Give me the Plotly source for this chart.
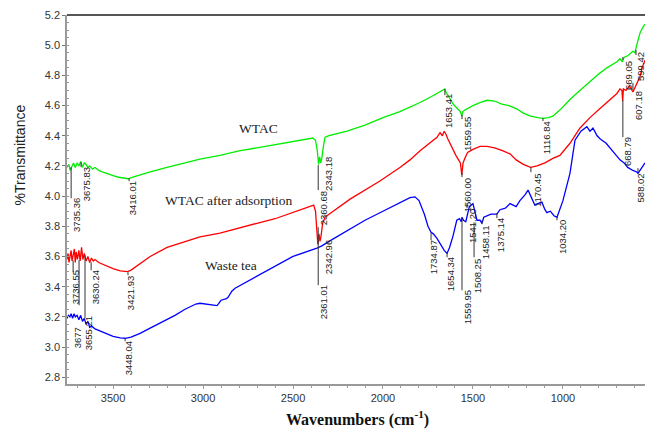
import plotly.graph_objects as go

# ---------------- data ----------------
wtac_wn = [3756, 3745, 3739, 3730, 3720, 3710, 3700, 3690, 3680, 3670, 3660, 3650, 3640, 3630,
           3615, 3600, 3580, 3560, 3540, 3520, 3500, 3470, 3440, 3416, 3390, 3350, 3294, 3200,
           3100, 3017, 2906, 2800, 2700, 2600, 2500, 2406, 2390, 2375, 2365, 2358, 2352, 2346,
           2340, 2330, 2322, 2300, 2200, 2100, 2000, 1906, 1850, 1794, 1730, 1690, 1670, 1656,
           1650, 1640, 1625, 1610, 1595, 1580, 1570, 1562, 1556, 1545, 1530, 1500, 1461, 1422,
           1380, 1340, 1300, 1260, 1220, 1180, 1140, 1111, 1080, 1056, 1017, 961, 906, 850, 800,
           756, 700, 683, 670, 660, 640, 611, 600, 590, 572, 560, 544]
wtac_t = [4.19, 4.21, 4.17, 4.20, 4.22, 4.19, 4.22, 4.20, 4.23, 4.19, 4.22, 4.21, 4.19, 4.20,
          4.18, 4.19, 4.17, 4.16, 4.15, 4.14, 4.135, 4.125, 4.12, 4.115, 4.125, 4.14, 4.16, 4.19,
          4.22, 4.245, 4.27, 4.30, 4.32, 4.34, 4.36, 4.38, 4.385, 4.37, 4.30, 4.21, 4.26, 4.22,
          4.25, 4.34, 4.39, 4.40, 4.43, 4.47, 4.52, 4.56, 4.59, 4.62, 4.66, 4.69, 4.70, 4.71,
          4.69, 4.67, 4.64, 4.61, 4.59, 4.57, 4.56, 4.53, 4.56, 4.57, 4.58, 4.60, 4.62, 4.635,
          4.63, 4.61, 4.60, 4.58, 4.55, 4.53, 4.52, 4.515, 4.52, 4.53, 4.57, 4.64, 4.70, 4.76, 4.81,
          4.85, 4.89, 4.91, 4.89, 4.92, 4.93, 4.96, 4.95, 5.00, 5.08, 5.11, 5.14]

ads_wn = [3756, 3750, 3745, 3739, 3733, 3728, 3722, 3715, 3710, 3705, 3698, 3690, 3683, 3675,
          3668, 3660, 3650, 3640, 3630, 3620, 3610, 3600, 3580, 3560, 3530, 3500, 3460, 3420,
          3400, 3350, 3294, 3200, 3100, 3017, 2906, 2800, 2700, 2600, 2500, 2406, 2385, 2375,
          2368, 2362, 2356, 2350, 2345, 2335, 2322, 2300, 2183, 2100, 2017, 1906, 1850, 1794,
          1740, 1700, 1683, 1670, 1660, 1650, 1640, 1625, 1610, 1595, 1580, 1570, 1562, 1555,
          1545, 1530, 1500, 1461, 1422, 1380, 1333, 1294, 1260, 1220, 1180, 1144, 1100, 1056,
          1017, 961, 906, 850, 794, 756, 700, 683, 672, 668, 664, 650, 630, 611, 600, 583, 572,
          560, 544]
ads_t = [3.58, 3.62, 3.56, 3.60, 3.64, 3.57, 3.62, 3.65, 3.56, 3.63, 3.58, 3.64, 3.57, 3.66,
         3.58, 3.62, 3.57, 3.60, 3.56, 3.59, 3.57, 3.58, 3.56, 3.55, 3.53, 3.52, 3.505, 3.50,
         3.51, 3.55, 3.60, 3.66, 3.70, 3.73, 3.755, 3.79, 3.82, 3.85, 3.89, 3.93, 3.94, 3.90,
         3.75, 3.68, 3.75, 3.70, 3.73, 3.82, 3.86, 3.88, 3.98, 4.04, 4.10, 4.19, 4.24, 4.30,
         4.35, 4.39, 4.42, 4.40, 4.43, 4.41, 4.38, 4.34, 4.30, 4.27, 4.24, 4.22, 4.14, 4.22,
         4.25, 4.29, 4.31, 4.33, 4.33, 4.32, 4.30, 4.28, 4.24, 4.21, 4.19, 4.20, 4.22, 4.25,
         4.27, 4.35, 4.45, 4.52, 4.58, 4.62, 4.68, 4.71, 4.70, 4.63, 4.71, 4.70, 4.73, 4.69,
         4.72, 4.77, 4.79, 4.85, 4.90]

tea_wn = [3756, 3748, 3740, 3733, 3725, 3717, 3710, 3700, 3690, 3680, 3670, 3660, 3650, 3640,
          3630, 3620, 3600, 3580, 3550, 3520, 3500, 3460, 3433, 3400, 3350, 3294, 3200, 3156,
          3100, 3040, 3017, 2990, 2961, 2922, 2900, 2870, 2861, 2840, 2822, 2700, 2600, 2500,
          2367, 2340, 2300, 2183, 2100, 2017, 1906, 1850, 1822, 1800, 1770, 1750, 1733, 1720,
          1700, 1680, 1660, 1644, 1630, 1610, 1590, 1575, 1565, 1561, 1553, 1540, 1533, 1520,
          1500, 1490, 1478, 1461, 1450, 1440, 1422, 1400, 1367, 1350, 1320, 1294, 1260, 1239,
          1210, 1194, 1175, 1156, 1140, 1117, 1100, 1089, 1070, 1050, 1033, 1000, 961, 933, 900,
          867, 850, 833, 810, 794, 760, 720, 683, 660, 640, 611, 590, 583, 570, 555, 544]
tea_t = [3.19, 3.21, 3.20, 3.22, 3.19, 3.22, 3.20, 3.21, 3.18, 3.21, 3.17, 3.19, 3.15, 3.17,
         3.13, 3.14, 3.12, 3.11, 3.09, 3.08, 3.07, 3.06, 3.058, 3.065, 3.09, 3.125, 3.18, 3.21,
         3.25, 3.285, 3.29, 3.285, 3.28, 3.275, 3.31, 3.32, 3.33, 3.37, 3.39, 3.47, 3.54, 3.60,
         3.655, 3.67, 3.70, 3.78, 3.84, 3.89, 3.96, 3.99, 3.995, 3.97, 3.88, 3.80, 3.76, 3.75,
         3.72, 3.68, 3.64, 3.62, 3.66, 3.74, 3.84, 3.85, 3.83, 3.86, 3.84, 3.83, 3.86, 3.93,
         3.95, 3.90, 3.84, 3.84, 3.82, 3.86, 3.87, 3.88, 3.88, 3.91, 3.92, 3.95, 3.93, 3.97,
         4.01, 4.04, 3.99, 3.94, 3.95, 3.96, 3.91, 3.89, 3.90, 3.87, 3.86, 3.97, 4.15, 4.37, 4.43,
         4.46, 4.43, 4.45, 4.40, 4.38, 4.35, 4.29, 4.24, 4.22, 4.19, 4.17, 4.16, 4.15, 4.17, 4.20,
         4.22]

# peak labels: text, label centre (wavenumber, %T), leader line (wavenumber, top %T, bottom %T)
peak_text = ["3735.36", "3675.83", "3416.01", "2343.18", "1653.41", "1559.55", "1116.84",
             "669.05", "599.42", "607.18",
             "3736.55", "3630.24", "3421.93", "2360.68", "1560.00", "1170.45", "668.79",
             "3677", "3655.21", "3448.04", "2361.01", "2342.96", "1734.87", "1654.34",
             "1559.95", "1541.20", "1508.25", "1458.11", "1375.14", "1034.20", "588.02"]
peak_lab_wn = [3706, 3650, 3394, 2306, 1639, 1533, 1094,
               639, 572, 583,
               3711, 3600, 3406, 2333, 1533, 1144, 644,
               3700, 3639, 3417, 2333, 2306, 1722, 1628,
               1533, 1506, 1478, 1433, 1350, 1006, 570]
peak_lab_t = [3.874, 4.079, 3.986, 4.146, 4.563, 4.411, 4.384,
              4.802, 4.862, 4.603,
              3.396, 3.396, 3.357, 3.920, 4.006, 4.040, 4.292,
              3.058, 3.091, 2.925, 3.297, 3.595, 3.595, 3.482,
              3.264, 3.801, 3.469, 3.695, 3.741, 3.728, 4.053]
line_wn = [3733, 3678, 3411, 2360, 1656, 1561, 1111,
           667, 594, 611,
           3722, 3622, 3417, 2360, 1561, 1178, 667,
           3689, 3656, 3433, 2360, 2360, 1733, 1644,
           1561, 1533, 1494, 1450, 1367, 1033, 583]
line_top = [4.192, 4.225, 4.119, 4.205, 4.709, 4.537, 4.517,
            4.921, 4.968, 4.749,
            3.575, 3.562, 3.496, 3.794, 4.152, 4.192, 4.636,
            3.575, 3.608, 3.058, 3.642, 3.675, 3.754, 3.622,
            3.860, 3.953, 3.826, 3.840, 3.887, 3.860, 4.185]
line_bot = [3.986, 4.192, 4.099, 4.040, 4.669, 4.510, 4.497,
            4.902, 4.935, 4.703,
            3.496, 3.509, 3.476, 3.675, 4.126, 4.159, 4.391,
            3.277, 3.191, 3.038, 3.410, 3.642, 3.708, 3.595,
            3.376, 3.920, 3.595, 3.814, 3.854, 3.840, 4.159]

series_names = ["WTAC", "WTAC after adsorption", "Waste tea"]
series_lab_wn = [2694, 2861, 2844]
series_lab_t = [4.451, 3.973, 3.542]

y_ticks = [2.8, 3.0, 3.2, 3.4, 3.6, 3.8, 4.0, 4.2, 4.4, 4.6, 4.8, 5.0, 5.2]
x_ticks = [3500, 3000, 2500, 2000, 1500, 1000]

# ---------------- figure ----------------
fig = go.Figure()
for wn, t, col in [(wtac_wn, wtac_t, "#00ee00"), (ads_wn, ads_t, "#ff0000"), (tea_wn, tea_t, "#0000ff")]:
    fig.add_trace(go.Scatter(x=wn, y=t, mode="lines", line=dict(color=col, width=1.3),
                             showlegend=False, hoverinfo="skip"))

shapes = []
for lx, ly0, ly1 in zip(line_wn, line_top, line_bot):
    shapes.append(dict(type="line", xref="x", yref="y", x0=lx, x1=lx, y0=ly0, y1=ly1,
                       line=dict(color="#333333", width=1)))
# top frame line
shapes.append(dict(type="line", xref="paper", yref="paper", x0=0, x1=1, y0=1, y1=1,
                   line=dict(color="#555555", width=2)))

annotations = []
for txt, ax_, ay_ in zip(peak_text, peak_lab_wn, peak_lab_t):
    annotations.append(dict(x=ax_, y=ay_, xref="x", yref="y", text=txt, showarrow=False,
                            textangle=-90, xanchor="center", yanchor="middle",
                            font=dict(family="Liberation Sans, Arial", size=9.5, color="#222222")))
for txt, ax_, ay_ in zip(series_names, series_lab_wn, series_lab_t):
    annotations.append(dict(x=ax_, y=ay_, xref="x", yref="y", text=txt, showarrow=False,
                            xanchor="center", yanchor="middle",
                            font=dict(family="Liberation Serif, Times New Roman", size=13.5,
                                      color="#222222")))
annotations.append(dict(x=0.503, y=-0.094, xref="paper", yref="paper",
                        text="<b>Wavenumbers (cm<sup>-1</sup>)</b>", showarrow=False,
                        xanchor="center", yanchor="middle",
                        font=dict(family="Liberation Serif, Times New Roman", size=16,
                                  color="#111111")))
annotations.append(dict(x=-0.081, y=0.62, xref="paper", yref="paper", text="%Transmittance",
                        showarrow=False, textangle=-90, xanchor="center", yanchor="middle",
                        font=dict(family="Liberation Sans, Arial", size=14, color="#222222")))

fig.update_layout(
    width=645, height=429,
    margin=dict(l=67, r=0, t=15, b=45),
    paper_bgcolor="white", plot_bgcolor="white",
    shapes=shapes, annotations=annotations,
    xaxis=dict(range=[3756, 544], tickvals=x_ticks, ticktext=[str(v) for v in x_ticks],
               showgrid=False, zeroline=False, showline=True, linecolor="#999999", linewidth=1.5,
               ticks="outside", ticklen=3, tickcolor="#999999",
               minor=dict(dtick=100, ticks="outside", ticklen=2, tickcolor="#999999"),
               tickfont=dict(family="Liberation Sans, Arial", size=11, color="#333333")),
    yaxis=dict(range=[2.755, 5.2], tickvals=y_ticks, ticktext=["%.1f" % v for v in y_ticks],
               showgrid=False, zeroline=False, showline=True, linecolor="#999999", linewidth=1.5,
               ticks="outside", ticklen=3, tickcolor="#777777",
               minor=dict(dtick=0.05, ticks="inside", ticklen=2, tickcolor="#999999"),
               tickfont=dict(family="Liberation Sans, Arial", size=11, color="#333333")),
)

fig.write_html("out.html")
